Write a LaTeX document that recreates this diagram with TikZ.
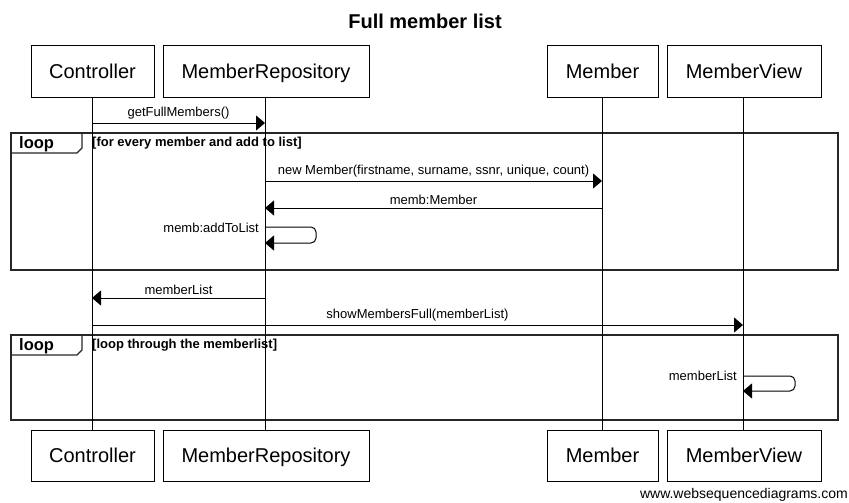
\documentclass[tikz,border=0pt]{standalone}
\usepackage{fontspec}
\setmainfont{Liberation Sans}
\usetikzlibrary{arrows.meta}
\begin{document}
\begin{tikzpicture}[x=1pt,y=-1pt,
  actor/.style={draw,line width=1pt,minimum height=51pt,inner sep=0pt,
    font=\fontsize{20}{24}\selectfont,text height=14.3pt,text depth=0pt},
  life/.style={line width=1pt},
  msg/.style={line width=1pt,-{Triangle[length=9pt,width=15pt]}},
  lbl/.style={font=\fontsize{13}{15}\selectfont,inner sep=0pt},
  guard/.style={font=\bfseries\fontsize{13}{15}\selectfont,inner sep=0pt,anchor=base west},
  looplbl/.style={font=\bfseries\fontsize{16.5}{18}\selectfont,inner sep=0pt,anchor=base west},
  frame/.style={line width=2pt,draw=black!85},
  tab/.style={line width=1.3pt,draw=black!85}]
\useasboundingbox (0,0) rectangle (849,503);

% title
\node[font=\bfseries\fontsize{20}{24}\selectfont,anchor=base,inner sep=0pt] (title) at (425,29) {Full member list};

% participants, head and foot
\node[actor,minimum width=123pt] (ctrlT) at (92.5,71.5) {Controller};
\node[actor,minimum width=206pt] (repoT) at (266,71.5) {MemberRepository};
\node[actor,minimum width=111pt] (membT) at (602.5,71.5) {Member};
\node[actor,minimum width=154pt] (viewT) at (744,71.5) {MemberView};
\node[actor,minimum width=123pt] (ctrlB) at (92.5,455.5) {Controller};
\node[actor,minimum width=206pt] (repoB) at (266,455.5) {MemberRepository};
\node[actor,minimum width=111pt] (membB) at (602.5,455.5) {Member};
\node[actor,minimum width=154pt] (viewB) at (744,455.5) {MemberView};

% combined fragments
\draw[frame] (11,133) rectangle (838,270);
\draw[tab] (11,153) -- (77,153) -- (82,148) -- (82,133);
\node[looplbl] (loop1) at (19,148) {loop};
\node[guard] (guard1) at (92,146) {[for every member and add to list]};

\draw[frame] (11,335) rectangle (838,420);
\draw[tab] (11,355) -- (77,355) -- (82,350) -- (82,335);
\node[looplbl] (loop2) at (19,350) {loop};
\node[guard] (guard2) at (92,348) {[loop through the memberlist]};

% lifelines
\draw[life] (ctrlT.south -| 92,0) -- (ctrlB.north -| 92,0);
\draw[life] (repoT.south -| 265,0) -- (repoB.north -| 265,0);
\draw[life] (membT.south -| 602,0) -- (membB.north -| 602,0);
\draw[life] (viewT.south -| 743,0) -- (viewB.north -| 743,0);

% messages
\draw[msg] (92,123) -- (265,123)
  node[lbl,midway,above=3pt] {getFullMembers()};
\draw[msg] (265,181) -- (602,181)
  node[lbl,midway,above=3pt] {new Member(firstname, surname, ssnr, unique, count)};
\draw[msg] (602,208) -- (265,208)
  node[lbl,midway,above=3pt] {memb:Member};
\draw[msg,rounded corners=5pt] (265,227) -- (316,227) -- (316,243) -- (265,243);
\node[lbl,anchor=base east] (self1) at (259,232) {memb:addToList};
\draw[msg] (265,298) -- (92,298)
  node[lbl,midway,above=3pt] {memberList};
\draw[msg] (92,325) -- (743,325)
  node[lbl,midway,above=3pt] {showMembersFull(memberList)};
\draw[msg,rounded corners=5pt] (743,376) -- (795,376) -- (795,391) -- (743,391);
\node[lbl,anchor=base east] (self2) at (737,380) {memberList};

% footer
\node[font=\fontsize{14}{16}\selectfont,anchor=base east,inner sep=0pt] (footer) at (848,498) {www.websequencediagrams.com};
\end{tikzpicture}
\end{document}
